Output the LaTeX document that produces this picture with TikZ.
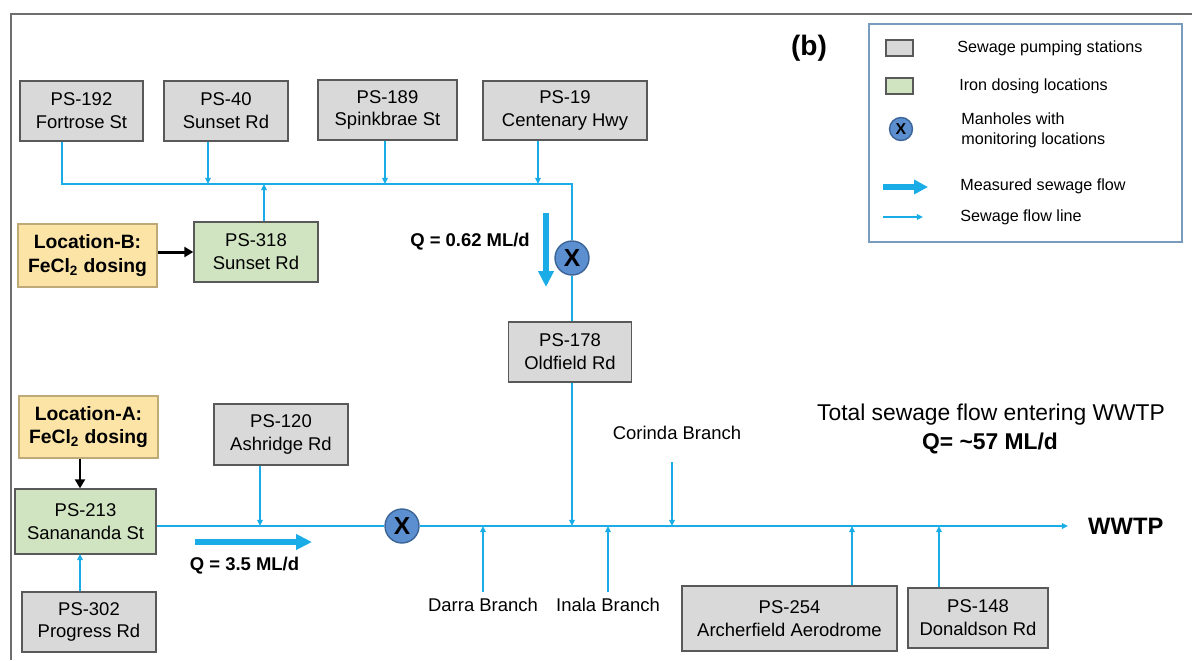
\documentclass[tikz,border=0pt]{standalone}
\usepackage{fontspec}
\setmainfont{Liberation Sans}
\usetikzlibrary{arrows.meta}

\definecolor{flowblue}{RGB}{25,172,230}
\definecolor{psgray}{RGB}{217,217,217}
\definecolor{boxline}{RGB}{89,89,89}
\definecolor{dosegreen}{RGB}{208,228,194}
\definecolor{locyellow}{RGB}{252,228,166}
\definecolor{locline}{RGB}{190,170,120}
\definecolor{mhblue}{RGB}{91,143,208}
\definecolor{mhline}{RGB}{60,100,150}
\definecolor{legline}{RGB}{120,155,190}
\definecolor{framegray}{RGB}{110,110,110}

\tikzset{
  psbox/.style={draw=boxline, fill=psgray, line width=0.8pt, align=center, inner sep=0pt, font=\fontsize{10.5}{13}\selectfont},
  dosebox/.style={psbox, fill=dosegreen},
  locbox/.style={draw=locline, fill=locyellow, line width=0.6pt, align=center, inner sep=0pt, font=\bfseries\fontsize{11}{13.5}\selectfont},
  manhole/.style={circle, draw=mhline, fill=mhblue, line width=0.8pt, minimum size=0.68cm, inner sep=0pt, font=\bfseries\fontsize{14}{14}\selectfont},
  pipe/.style={draw=flowblue, line width=1.1pt},
  flow/.style={pipe, -{Triangle[length=3.5pt,width=3.2pt]}},
  qflow/.style={draw=flowblue, line width=3pt, -{Triangle[length=0.32cm,width=0.3cm]}},
  dose/.style={draw=black, line width=1.7pt, -{Triangle[length=0.18cm,width=0.2cm]}},
  lbl/.style={font=\fontsize{10.5}{13}\selectfont},
  qlbl/.style={font=\bfseries\fontsize{10.5}{13}\selectfont},
  legtext/.style={anchor=west, inner sep=0pt, align=left, font=\fontsize{9.2}{11.3}\selectfont}
}

\begin{document}
\begin{tikzpicture}[x=0.02cm, y=-0.02cm]
	\useasboundingbox (0,0) rectangle (1192,660);
	\draw[framegray, line width=1pt] (1192,14) -- (11,14) -- (11,660);
	
	% upper catchment
	\node[psbox, minimum width=2.46cm, minimum height=1.2cm] (ps192) at (81.5,111) {PS-192\\Fortrose St};
	\node[psbox, minimum width=2.48cm, minimum height=1.2cm] (ps40) at (226,111) {PS-40\\Sunset Rd};
	\node[psbox, minimum width=2.78cm, minimum height=1.2cm] (ps189) at (387.5,110) {PS-189\\Spinkbrae St};
	\node[psbox, minimum width=3.28cm, minimum height=1.18cm] (ps19) at (565,110.5) {PS-19\\Centenary Hwy};
	\node[dosebox, minimum width=2.48cm, minimum height=1.2cm] (ps318) at (256,252) {PS-318\\Sunset Rd};
	\node[locbox, minimum width=2.78cm, minimum height=1.26cm] (locb) at (87.5,255.5) {Location-B:\\FeCl\textsubscript{2} dosing};
	\node[manhole] (X1) at (572,258) {X};
	\node[psbox, minimum width=2.46cm, minimum height=1.2cm] (ps178) at (570,352) {PS-178\\Oldfield Rd};
	
	\coordinate (j0) at (62,184);
	\coordinate (j5) at (572,184);
	\coordinate (t40) at (208,184);
	\coordinate (t189) at (385,184);
	\coordinate (t19) at (538,184);
	\coordinate (t318) at (264,184);
	
	\draw[pipe] (ps192.south -| j0) -- (j0) -- (j5) -- (X1.north);
	\draw[pipe] (X1.south) -- (X1 |- ps178.north);
	\draw[flow] (ps40.south -| t40) -- (t40);
	\draw[flow] (ps189.south -| t189) -- (t189);
	\draw[flow] (ps19.south -| t19) -- (t19);
	\draw[flow] (ps318.north -| t318) -- (t318);
	\draw[dose] (locb.east |- ps318.west) -- (ps318.west);
	
	\coordinate (q1a) at (546,213);
	\coordinate (q1b) at (546,287);
	\draw[qflow] (q1a) -- (q1b);
	\node[qlbl] (q1) at (470,242) {Q = 0.62 ML/d};
	
	% trunk main
	\node[locbox, minimum width=2.78cm, minimum height=1.24cm] (loca) at (88.5,427) {Location-A:\\FeCl\textsubscript{2} dosing};
	\node[dosebox, minimum width=2.82cm, minimum height=1.3cm] (ps213) at (85.5,521.5) {PS-213\\Sanananda St};
	\node[psbox, minimum width=2.68cm, minimum height=1.22cm] (ps120) at (281,434.5) {PS-120\\Ashridge Rd};
	\node[psbox, minimum width=2.68cm, minimum height=1.2cm] (ps302) at (89,622) {PS-302\\Progress Rd};
	\node[psbox, minimum width=4.3cm, minimum height=1.3cm] (ps254) at (789.5,618.5) {PS-254\\Archerfield Aerodrome};
	\node[psbox, minimum width=2.8cm, minimum height=1.2cm] (ps148) at (978,618) {PS-148\\Donaldson Rd};
	\node[manhole] (X2) at (402,526) {X};
	
	\node[lbl] (darra) at (483,605) {Darra Branch};
	\node[lbl] (inala) at (608,605) {Inala Branch};
	\node[lbl] (corinda) at (677,433) {Corinda Branch};
	
	\coordinate (t120) at (260,526);
	\coordinate (t302) at (80,554);
	\coordinate (t254) at (852,526);
	\coordinate (t148) at (939,526);
	\coordinate (cor) at (672,462);
	\coordinate (mend) at (1068,526);
	
	\draw[pipe] (ps213.east |- X2) -- (X2.west);
	\draw[flow] (X2.east) -- (mend);
	\draw[flow] (ps120.south -| t120) -- (t120);
	\draw[flow] (ps302.north -| t302) -- (t302);
	\draw[dose] (loca.south -| t302) -- (ps213.north -| t302);
	\draw[flow] (X1 |- ps178.south) -- (X1 |- X2);
	\draw[flow] (darra.north) -- (darra.north |- X2);
	\draw[flow] (inala.north) -- (inala.north |- X2);
	\draw[flow] (cor) -- (cor |- X2);
	\draw[flow] (ps254.north -| t254) -- (t254);
	\draw[flow] (ps148.north -| t148) -- (t148);
	
	\coordinate (q2a) at (195,542);
	\coordinate (q2b) at (312,542);
	\draw[qflow] (q2a) -- (q2b);
	\node[qlbl] (q2) at (244.5,566) {Q = 3.5 ML/d};
	
	\node[anchor=west, font=\bfseries\fontsize{13.5}{16}\selectfont] (wwtp) at (1082,526) {WWTP};
	\node[font=\fontsize{13}{16}\selectfont] (total) at (991,415) {Total sewage flow entering WWTP};
	\node[font=\bfseries\fontsize{13}{16}\selectfont] (qtotal) at (990,443) {Q= \textasciitilde57 ML/d};
	\node[font=\bfseries\fontsize{16}{18}\selectfont] (panel) at (809,48) {(b)};
	
	% legend
	\draw[legline, line width=0.6pt] (869,24) rectangle (1182,242);
	\node[psbox, minimum width=0.54cm, minimum height=0.32cm] (lgps) at (899.5,48) {};
	\node[dosebox, minimum width=0.54cm, minimum height=0.32cm] (lgdose) at (899.5,86) {};
	\node[manhole, minimum size=0.46cm, font=\bfseries\fontsize{9}{9}\selectfont] (lgmh) at (901,129) {X};
	\coordinate (lq1) at (883,187);
	\coordinate (lq2) at (928,187);
	\coordinate (lf1) at (883,217);
	\coordinate (lf2) at (923,217);
	\draw[qflow, -{Triangle[length=0.28cm,width=0.28cm]}] (lq1) -- (lq2);
	\draw[flow] (lf1) -- (lf2);
	\node[legtext] (lt1) at (957,48) {Sewage pumping stations};
	\node[legtext] (lt2) at (959,86) {Iron dosing locations};
	\node[legtext] (lt3) at (961,130) {Manholes with\\monitoring locations};
	\node[legtext] (lt4) at (960,186) {Measured sewage flow};
	\node[legtext] (lt5) at (960,217) {Sewage flow line};
	
\end{tikzpicture}
\end{document}
